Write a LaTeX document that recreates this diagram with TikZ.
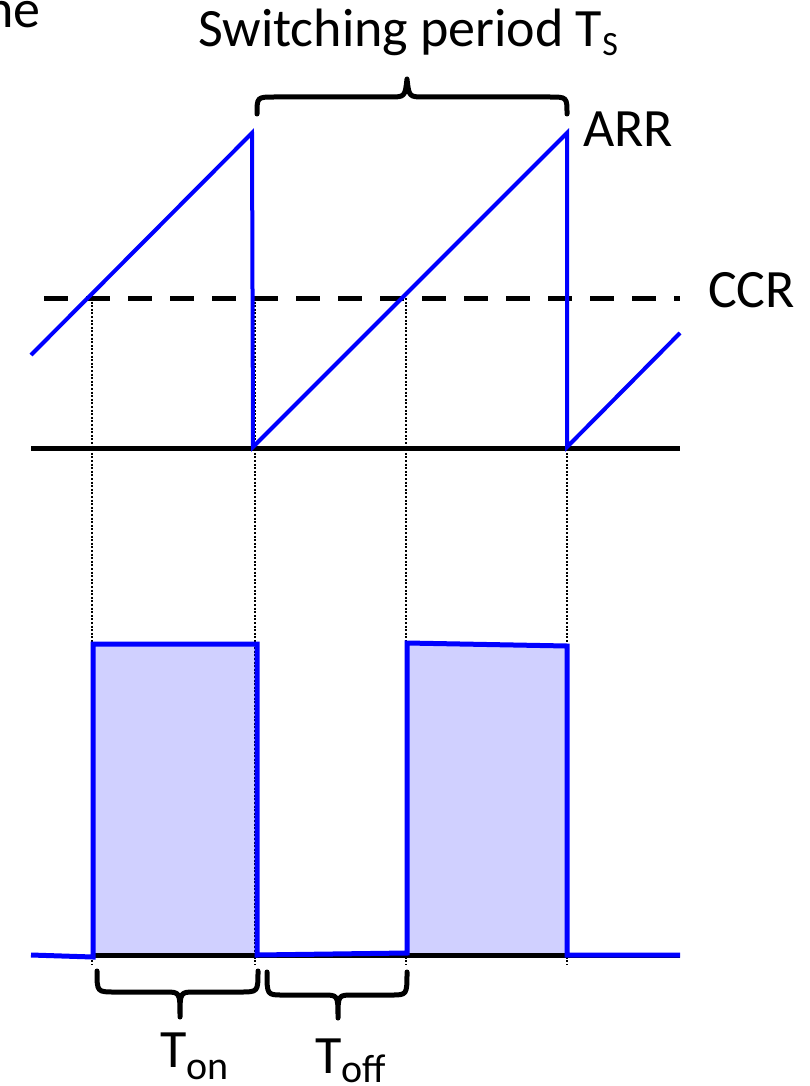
\documentclass[tikz,border=0pt]{standalone}
\usepackage{fontspec}
\setmainfont{Carlito}
\definecolor{wave}{RGB}{0,0,255}
\definecolor{pulsefill}{RGB}{208,208,255}
\newcommand{\lowsub}[3]{\raisebox{-#1pt}{\fontsize{#2}{#2}\selectfont #3}}
\tikzset{
  wavel/.style={draw=wave, line width=4pt, line join=miter},
  pulsel/.style={draw=wave, line width=5pt, line join=miter},
  axisl/.style={draw=black, line width=5pt},
  ccrl/.style={draw=black, line width=5pt, dash pattern=on 24pt off 18pt},
  guidel/.style={draw=black, line width=2pt, dash pattern=on 2pt off 1.6pt},
  bracel/.style={draw=black, line width=5pt, line cap=round, line join=round},
  lbl/.style={inner sep=0pt, font=\fontsize{54}{60}\selectfont},
}
\begin{document}
\begin{tikzpicture}[x=1pt,y=-1pt]
\useasboundingbox (0,0) rectangle (809,1086);
% labels
\node[lbl, anchor=base east] (ne) at (41,28) {ne};
\node[lbl, anchor=base west] (ts) at (198,47) {Switching period T\lowsub{9}{34}{S}};
\node[lbl, anchor=base west] (arr) at (583,147) {ARR};
\node[lbl, anchor=base west] (ccr) at (708,307) {CCR};
\node[lbl, anchor=base west] (ton) at (160,1067) {T\lowsub{12}{40}{on}};
\node[lbl, anchor=base west] (toff) at (315,1073) {T\lowsub{9}{40}{off}};
% pulse fills
\fill[pulsefill] (92,644) rectangle (257,955);
\fill[pulsefill] (406,644) rectangle (567,955);
% guides
\foreach \gx in {92,255,406,567}{
  \draw[guidel] (\gx,298) -- (\gx,965);
}
% axes
\draw[axisl] (31,448) -- (680,448);
\draw[axisl] (94,955) -- (680,955);
% CCR
\draw[ccrl] (44,298) -- (680,298);
% sawtooth
\draw[wavel] (31,355) -- (252,133) -- (253,447) -- (567,133) -- (567,447) -- (680,333);
% pwm
\draw[pulsel] (31,955) -- (93,957) -- (93,644) -- (257,644) -- (257,955)
  -- (407,953) -- (407,643) -- (567,646) -- (567,955) -- (680,955);
% braces
\draw[bracel] (257,114) .. controls (257,97) .. (275,97) -- (389,97)
  .. controls (405,97) .. (407,79) .. controls (409,97) .. (425,97)
  -- (549,97) .. controls (567,97) .. (567,114);
\draw[bracel] (97,971) .. controls (97,992) .. (115,992) -- (165,992)
  .. controls (180,992) .. (180,1017) .. controls (180,992) .. (195,992)
  -- (240,992) .. controls (258,992) .. (258,971);
\draw[bracel] (267,972) .. controls (267,995) .. (283,995) -- (323,995)
  .. controls (338,995) .. (338,1018) .. controls (338,995) .. (353,995)
  -- (391,995) .. controls (407,995) .. (407,972);
\end{tikzpicture}
\end{document}
